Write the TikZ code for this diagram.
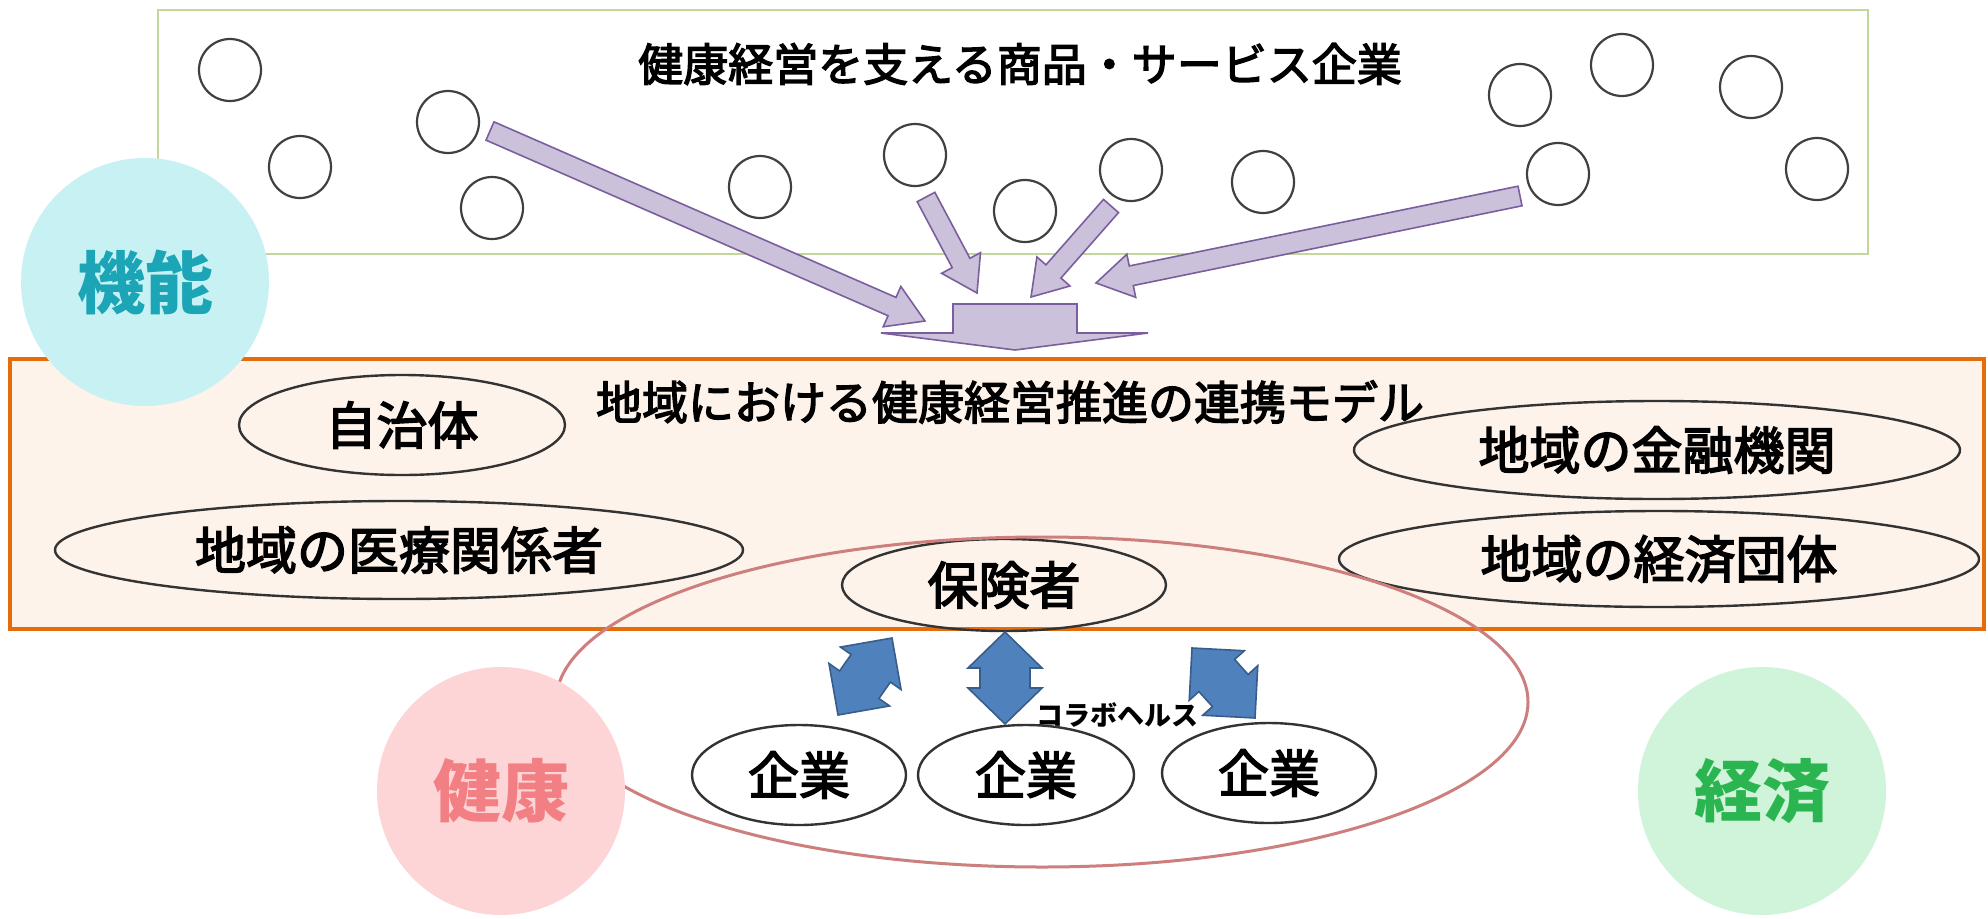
\documentclass[tikz,border=0pt]{standalone}
\usepackage{fontspec}
\newfontfamily\jp{Noto Sans CJK JP}
\newfontfamily\jpm[FakeBold=3]{Noto Sans CJK JP}
\usetikzlibrary{shapes.geometric,calc}
\definecolor{gline}{HTML}{C3D69B}
\definecolor{oline}{HTML}{E46C0A}
\definecolor{ofill}{HTML}{FDF3EB}
\definecolor{cline}{HTML}{404040}
\definecolor{pfill}{HTML}{CCC1DA}
\definecolor{pline}{HTML}{7A5E9E}
\definecolor{bfill}{HTML}{4F81BD}
\definecolor{bline}{HTML}{385D8A}
\definecolor{rline}{HTML}{CD7F7E}
\definecolor{cyfill}{HTML}{C8F1F4}
\definecolor{cytext}{HTML}{1BA5B6}
\definecolor{pkfill}{HTML}{FDD5D6}
\definecolor{pktext}{HTML}{F27F84}
\definecolor{gnfill}{HTML}{D0F4DA}
\definecolor{gntext}{HTML}{2BB550}
\newcommand\fatarrowdraw[6]{%
  \coordinate (fah) at ($(#3)!#6!(#2)$);
  \draw[#1] ($(#2)!#4!90:(#3)$) -- ($(fah)!#4!90:(#3)$) -- ($(fah)!#5!90:(#3)$) -- (#3)
    -- ($(fah)!#5!-90:(#3)$) -- ($(fah)!#4!-90:(#3)$) -- ($(#2)!#4!-90:(#3)$) -- cycle;
}
\newcommand\dblarrowdraw[6]{%
  \coordinate (dah) at ($(#2)!#6!(#3)$);
  \coordinate (dbh) at ($(#3)!#6!(#2)$);
  \draw[#1] (#2) -- ($(dah)!#5!90:(#3)$) -- ($(dah)!#4!90:(#3)$) -- ($(dbh)!#4!90:(#3)$)
    -- ($(dbh)!#5!90:(#3)$) -- (#3) -- ($(dbh)!#5!-90:(#3)$) -- ($(dbh)!#4!-90:(#3)$)
    -- ($(dah)!#4!-90:(#3)$) -- ($(dah)!#5!-90:(#3)$) -- cycle;
}
\tikzset{
  smallc/.style={circle, draw=cline, line width=2.2pt, minimum size=62pt, inner sep=0pt},
  ell/.style={ellipse, draw=black!80, line width=2.4pt, inner sep=0pt, font=\jpm\fontsize{51}{60}\selectfont},
  bigc/.style={circle, minimum size=248pt, inner sep=0pt, font=\jp\bfseries\fontsize{68}{80}\selectfont},
  parrow/.style={fill=pfill, draw=pline, line width=1.6pt, line join=miter},
  barrow/.style={fill=bfill, draw=bline, line width=1.6pt, line join=miter},
  ttl/.style={font=\jpm\fontsize{45}{54}\selectfont, inner sep=0pt}
}
\begin{document}
\begin{tikzpicture}[x=1pt,y=-1pt]
\useasboundingbox[fill=white] (0,0) rectangle (1988,918);
% top box
\draw[gline, line width=2.2pt] (158,10) rectangle (1868,254);
\node[ttl] (toptitle) at (1020,64) {健康経営を支える商品・サービス企業};
\foreach \n/\x/\y in {c1/230/70, c2/300/167, c3/448/122, c4/492/208, c5/760/187,
  c6/915/155, c7/1025/211, c8/1131/170, c9/1263/182, c10/1520/95, c11/1622/65,
  c12/1751/87, c13/1558/174, c14/1817/169}
  \node[smallc] (\n) at (\x,\y) {};
% orange box
\draw[oline, fill=ofill, line width=3.2pt] (10,359) rectangle (1984,629);
\node[ttl, font=\jpm\fontsize{46}{55}\selectfont] (midtitle) at (1010,402) {地域における健康経営推進の連携モデル};
\node[ell, minimum width=326pt, minimum height=100pt] (jichi) at (402,425) {自治体};
\node[ell, minimum width=688pt, minimum height=98pt] (iryo) at (399,550) {地域の医療関係者};
\node[ell, minimum width=324pt, minimum height=92pt] (hoken) at (1004,585) {保険者};
\node[ell, minimum width=606pt, minimum height=98pt] (kinyu) at (1657,450) {地域の金融機関};
\node[ell, minimum width=640pt, minimum height=96pt] (keizai) at (1659,559) {地域の経済団体};
% pink ellipse
\node[ellipse, draw=rline, line width=3pt, minimum width=972pt, minimum height=330pt, inner sep=0pt] (kenkoarea) at (1042,702) {};
% purple arrows
\coordinate (a1t) at (490,131); \coordinate (a1h) at (925,321);
\coordinate (a2t) at (926,197); \coordinate (a2h) at (977,293);
\coordinate (a3t) at (1111,206); \coordinate (a3h) at (1031,297);
\coordinate (a4t) at (1520,196); \coordinate (a4h) at (1096,283);
\fatarrowdraw{parrow}{a1t}{a1h}{10pt}{22pt}{36pt}
\fatarrowdraw{parrow}{a2t}{a2h}{10pt}{22pt}{34pt}
\fatarrowdraw{parrow}{a3t}{a3h}{10pt}{22pt}{34pt}
\fatarrowdraw{parrow}{a4t}{a4h}{10pt}{22pt}{36pt}
\draw[parrow] (953,304) -- (1077,304) -- (1077,333) -- (1148,333) -- (1015,350)
  -- (881,333) -- (953,333) -- cycle;
% big circles
\node[bigc, fill=cyfill, text=cytext] (kino) at (145,282) {機能};
\node[bigc, fill=pkfill, text=pktext] (kenko) at (501,791) {健康};
\node[bigc, fill=gnfill, text=gntext] (keizaic) at (1762,791) {経済};
% companies
\node[ell, minimum width=214pt, minimum height=100pt] (k1) at (799,775) {企業};
\node[ell, minimum width=216pt, minimum height=100pt] (k2) at (1026,775) {企業};
\node[ell, minimum width=214pt, minimum height=100pt] (k3) at (1269,773) {企業};
% blue double arrows
\coordinate (b1a) at (892,638); \coordinate (b1b) at (838,715);
\coordinate (b2a) at (1005,632); \coordinate (b2b) at (1005,724);
\coordinate (b3a) at (1192,648); \coordinate (b3b) at (1255,718);
\dblarrowdraw{barrow}{b1a}{b1b}{24pt}{37pt}{37pt}
\dblarrowdraw{barrow}{b2a}{b2b}{25pt}{37pt}{36pt}
\dblarrowdraw{barrow}{b3a}{b3b}{24pt}{37pt}{37pt}
\node[font=\jp\bfseries\fontsize{27}{32}\selectfont, inner sep=0pt] (collab) at (1117,715) {コラボヘルス};
\end{tikzpicture}
\end{document}
